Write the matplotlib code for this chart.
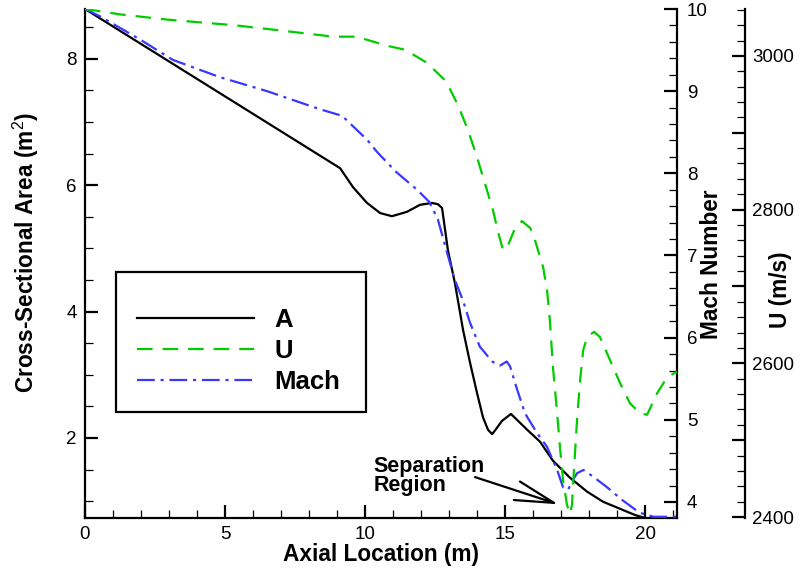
import matplotlib
matplotlib.use('Agg')
import matplotlib.pyplot as plt
from matplotlib.patches import Rectangle
from matplotlib.ticker import MultipleLocator, FuncFormatter

plt.rcParams['font.family'] = ['Liberation Sans', 'DejaVu Sans']
plt.rcParams['mathtext.fontset'] = 'custom'
plt.rcParams['mathtext.rm'] = 'Liberation Sans'

# Cross-sectional area A (m^2) along the axial location (m)
x_area = [0.0, 9.11, 9.57, 10.07, 10.54, 10.96, 11.5, 11.96, 12.39, 12.6, 12.75,
          12.96, 13.21, 13.5, 13.75, 14.0, 14.21, 14.39, 14.54, 14.71, 14.89, 15.21,
          15.79, 16.25, 16.71, 17.32, 17.93, 18.5, 19.1, 19.64, 20.0]
area = [8.79, 6.27, 5.97, 5.72, 5.56, 5.51, 5.58, 5.69, 5.72, 5.70, 5.64,
        4.97, 4.45, 3.71, 3.19, 2.71, 2.33, 2.13, 2.06, 2.16, 2.27, 2.38,
        2.13, 1.94, 1.64, 1.37, 1.15, 0.99, 0.88, 0.78, 0.735]

# Mach number
x_mach = [0.0, 0.54, 1.96, 3.14, 4.82, 6.5, 8.39, 9.18, 10.07, 10.43, 11.1, 11.86,
          12.3, 12.6, 12.9, 13.2, 13.5, 13.75, 14.1, 14.54, 14.82, 15.06, 15.18,
          15.43, 15.71, 16.14, 16.5, 16.86, 17.07, 17.25, 17.43, 17.57, 17.8, 18.14,
          18.64, 19.2, 19.8, 20.3, 21.14]
mach = [10.0, 9.91, 9.63, 9.38, 9.17, 9.0, 8.78, 8.70, 8.41, 8.26, 8.02, 7.80,
        7.65, 7.44, 7.07, 6.71, 6.45, 6.18, 5.89, 5.71, 5.66, 5.71, 5.65,
        5.37, 5.08, 4.84, 4.67, 4.39, 4.18, 4.15, 4.27, 4.35, 4.39, 4.31,
        4.18, 4.02, 3.87, 3.82, 3.82]

# Velocity U (m/s)
x_vel = [0.0, 1.25, 3.0, 5.3, 7.0, 8.86, 9.7, 10.8, 11.43, 12.21, 12.89, 13.32,
         13.68, 14.0, 14.29, 14.57, 14.75, 14.93, 15.11, 15.36, 15.6, 15.9, 16.07,
         16.36, 16.5, 16.6, 16.71, 16.86, 16.96, 17.07, 17.21, 17.32, 17.39, 17.46,
         17.57, 17.68, 17.79, 17.93, 18.18, 18.39, 18.75, 19.11, 19.46, 19.82,
         20.07, 20.43, 20.79, 21.14]
vel = [3061, 3054, 3047, 3040, 3033, 3025, 3025, 3013, 3008, 2991, 2967, 2936,
       2903, 2868, 2833, 2799, 2771, 2747, 2754, 2776, 2785, 2776, 2760,
       2725, 2695, 2656, 2595, 2535, 2491, 2448, 2416, 2404, 2416, 2461,
       2526, 2578, 2617, 2634, 2641, 2634, 2604, 2574, 2548, 2535,
       2533, 2561, 2582, 2589]

fig = plt.figure(figsize=(8.01, 5.69), dpi=100)
ax = fig.add_axes([85 / 801, 1 - 518 / 569, 592 / 801, 509 / 569])
ax2 = ax.twinx()
ax3 = ax.twinx()
ax3.spines['right'].set_position(('axes', 660 / 592))

green = '#00cc00'
blue = '#3838ff'

l1, = ax.plot(x_area, area, color='black', lw=1.6, label='A')
l3, = ax2.plot(x_mach, mach, color=blue, lw=1.6, dashes=(8, 2.6, 1.4, 2.6), label='Mach')
l2, = ax3.plot(x_vel, vel, color=green, lw=1.6, dashes=(7, 4.5), label='U')

ax.set_xlim(0, 21.14)
ax.set_ylim(0.733, 8.79)
ax2.set_ylim(3.805, 10.0)
ax3.set_ylim(2398.7, 3061)

for a in (ax, ax2, ax3):
    for s in a.spines.values():
        s.set_visible(False)
        s.set_linewidth(1.6)
ax.spines['left'].set_visible(True)
ax.spines['bottom'].set_visible(True)
ax2.spines['right'].set_visible(True)
ax3.spines['right'].set_visible(True)

ax.xaxis.set_major_locator(MultipleLocator(5))
ax.xaxis.set_minor_locator(MultipleLocator(1))
ax.yaxis.set_major_locator(MultipleLocator(2))
ax.yaxis.set_minor_locator(MultipleLocator(0.5))
ax2.yaxis.set_major_locator(MultipleLocator(1))
ax2.yaxis.set_minor_locator(MultipleLocator(0.2))
ax3.yaxis.set_major_locator(MultipleLocator(100))
ax3.yaxis.set_minor_locator(MultipleLocator(20))
ax3.yaxis.set_major_formatter(FuncFormatter(lambda v, p: '%d' % v if round(v) % 200 == 0 else ''))

tick_fs = 13.5
for a in (ax, ax2, ax3):
    a.tick_params(which='major', direction='in', length=9.5, width=1.6,
                  labelsize=tick_fs, pad=6)
    a.tick_params(which='minor', direction='in', length=5.5, width=0.9)
ax.tick_params(axis='x', which='both', top=False)
ax.tick_params(axis='y', which='both', right=False)
ax2.tick_params(axis='y', which='major', pad=7)
ax3.tick_params(axis='y', which='major', pad=5)

lab_fs = 16.3
fig.text(381 / 801, 1 - 554 / 569, 'Axial Location (m)', ha='center', va='center',
         fontsize=lab_fs, fontweight='bold')
fig.text(26 / 801, 1 - 253 / 569, r'Cross-Sectional Area (m$^{\mathrm{2}}$)', ha='center',
         va='center', rotation=90, fontsize=lab_fs, fontweight='bold')
fig.text(712 / 801, 1 - 264 / 569, 'Mach Number', ha='center', va='center', rotation=90,
         fontsize=lab_fs, fontweight='bold')
fig.text(780 / 801, 1 - 290 / 569, 'U (m/s)', ha='center', va='center', rotation=90,
         fontsize=lab_fs, fontweight='bold')

# separation region note
ax.text(10.29, 1.46, 'Separation', fontsize=15.5, fontweight='bold', va='baseline')
ax.text(10.29, 1.16, 'Region', fontsize=15.5, fontweight='bold', va='baseline')
ax.annotate('', xy=(16.9, 0.95), xytext=(13.93, 1.38),
            arrowprops=dict(arrowstyle='->,head_length=1.4,head_width=0.35',
                            color='black', lw=1.6, mutation_scale=20,
                            shrinkA=0, shrinkB=0))

# legend box drawn separately so its size matches the original
box = Rectangle((116 / 801, 1 - 412 / 569), 250 / 801, 140 / 569,
                transform=fig.transFigure, facecolor='white', edgecolor='black',
                lw=1.6, zorder=3)
fig.add_artist(box)
leg = fig.legend(handles=[l1, l2, l3], loc='upper left',
                 bbox_to_anchor=(137 / 801, 1 - 308 / 569), borderaxespad=0,
                 prop={'weight': 'bold', 'size': 18.5}, handlelength=4.55,
                 handletextpad=0.8, borderpad=0, labelspacing=0.27,
                 frameon=False)
leg.set_zorder(4)

fig.savefig('out.png', dpi=100)
